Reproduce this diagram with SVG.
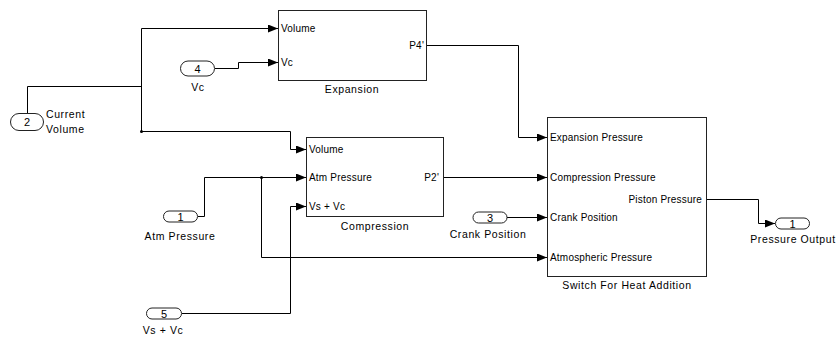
<svg xmlns="http://www.w3.org/2000/svg" width="838" height="342" viewBox="0 0 838 342">
<defs>
<marker id="arr" markerUnits="userSpaceOnUse" markerWidth="10" markerHeight="8" refX="10" refY="4" orient="auto">
<path d="M0,0 L10,4 L0,8 z" fill="#000"/>
</marker>
<style>
.blk{fill:#fff;stroke:#222;stroke-width:1}
.port{fill:#fff;stroke:#222;stroke-width:1}
.w{fill:none;stroke:#000;stroke-width:1}
.a{marker-end:url(#arr)}
.pl{font-family:"Liberation Sans",Arial,sans-serif;font-size:10px;letter-spacing:0.2px;fill:#000}
.bl{font-family:"Liberation Sans",Arial,sans-serif;font-size:10.5px;letter-spacing:0.6px;fill:#000;text-anchor:middle}
.num{font-family:"Liberation Sans",Arial,sans-serif;font-size:11px;fill:#000;text-anchor:middle}
</style>
</defs>
<rect width="838" height="342" fill="#fff"/>
<g id="connectors">
<path class="w" d="M27.5,113 V86.5 H141.5"/>
<path class="w" d="M141.5,28.5 V131.5"/>
<path class="w a" d="M141.5,28.5 H278"/>
<path class="w a" d="M141.5,131.5 H290.5 V149.5 H306"/>
<circle cx="141.5" cy="131.5" r="1.5" fill="#000"/>
<path class="w a" d="M215,68.5 H238.5 V62.5 H278"/>
<path class="w a" d="M427,45.5 H518.5 V137.5 H547"/>
<path class="w a" d="M198,216.5 H204.5 V177.5 H306"/>
<path class="w a" d="M261.5,177.5 V257.5 H547"/>
<circle cx="261.5" cy="177.5" r="1.5" fill="#000"/>
<path class="w a" d="M182,313.5 H290.5 V206.5 H306"/>
<path class="w a" d="M444,177.5 H547"/>
<path class="w a" d="M507,217.5 H547"/>
<path class="w a" d="M707,199.5 H758.5 V223.5 H775"/>
</g>
<g id="expansion">
<rect class="blk" x="278.5" y="10.5" width="148" height="70"/>
<text class="pl" x="281" y="31.5">Volume</text>
<text class="pl" x="281" y="65.5">Vc</text>
<text class="pl" x="424" y="48.5" text-anchor="end">P4'</text>
<text class="bl" x="352" y="93">Expansion</text>
</g>
<g id="compression">
<rect class="blk" x="306.5" y="137.5" width="137" height="79"/>
<text class="pl" x="309" y="152.5">Volume</text>
<text class="pl" x="309" y="180.5">Atm Pressure</text>
<text class="pl" x="309" y="209.5">Vs + Vc</text>
<text class="pl" x="439" y="180.5" text-anchor="end">P2'</text>
<text class="bl" x="375" y="230">Compression</text>
</g>
<g id="switch">
<rect class="blk" x="547.5" y="117.5" width="159" height="159"/>
<text class="pl" x="550" y="140.5">Expansion Pressure</text>
<text class="pl" x="550" y="180.5">Compression Pressure</text>
<text class="pl" x="550" y="220.5">Crank Position</text>
<text class="pl" x="550" y="260.5">Atmospheric Pressure</text>
<text class="pl" x="702" y="202.5" text-anchor="end">Piston Pressure</text>
<text class="bl" x="627" y="289">Switch For Heat Addition</text>
</g>
<g id="in2">
<rect class="port" x="10.5" y="113.5" width="33" height="17" rx="8.5"/>
<text class="num" x="27" y="126">2</text>
<text class="bl" x="46" y="118" style="text-anchor:start">Current</text>
<text class="bl" x="46" y="132.5" style="text-anchor:start">Volume</text>
</g>
<g id="in4">
<rect class="port" x="180.5" y="61" width="34" height="15" rx="7.5"/>
<text class="num" x="197.5" y="72.5">4</text>
<text class="bl" x="198" y="91">Vc</text>
</g>
<g id="in1">
<rect class="port" x="163.5" y="211" width="34" height="11" rx="5.5"/>
<text class="num" x="180.5" y="220.5">1</text>
<text class="bl" x="180" y="240">Atm Pressure</text>
</g>
<g id="in5">
<rect class="port" x="146.5" y="308" width="35" height="11" rx="5.5"/>
<text class="num" x="164" y="317.5">5</text>
<text class="bl" x="163" y="334">Vs + Vc</text>
</g>
<g id="in3">
<rect class="port" x="473" y="212" width="34" height="11" rx="5.5"/>
<text class="num" x="490" y="221.5">3</text>
<text class="bl" x="488" y="238">Crank Position</text>
</g>
<g id="out1">
<rect class="port" x="775.5" y="218" width="34" height="11" rx="5.5"/>
<text class="num" x="792.5" y="227.5">1</text>
<text class="bl" x="793" y="243">Pressure Output</text>
</g>
</svg>
